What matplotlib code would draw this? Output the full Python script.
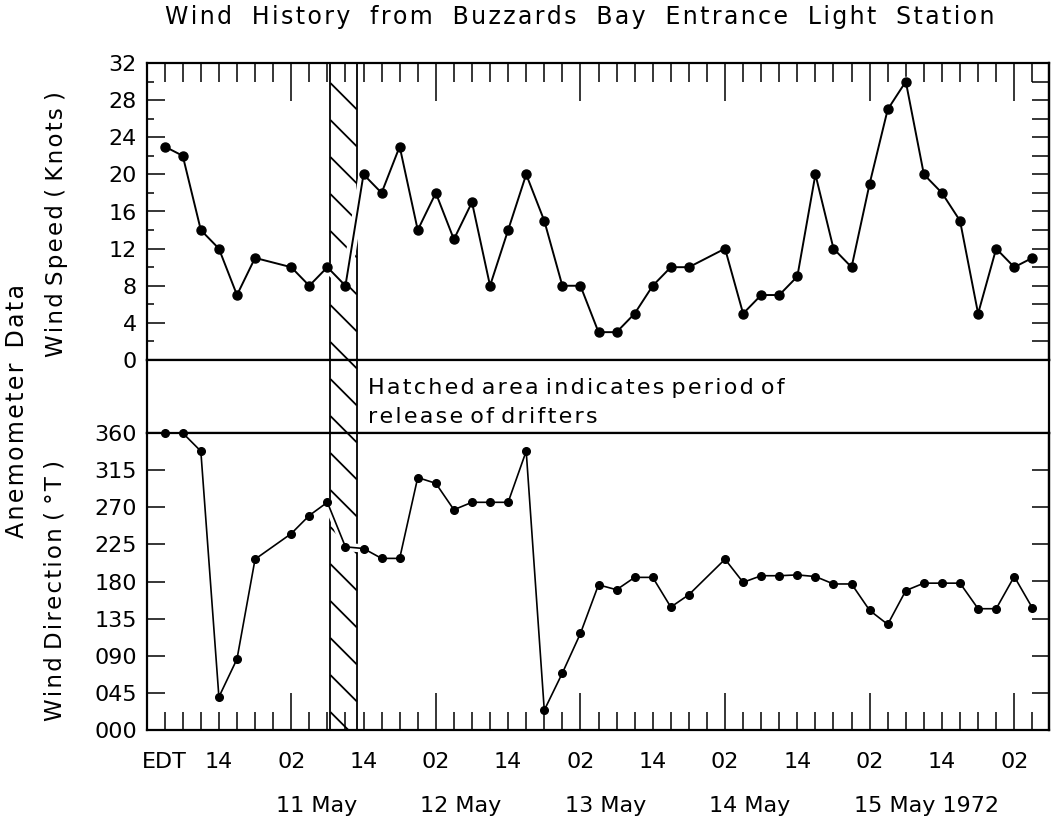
import numpy as np
import matplotlib.pyplot as plt
from matplotlib.collections import LineCollection
from matplotlib.transforms import IdentityTransform

plt.rcParams['font.family'] = 'DejaVu Sans'

# observation times, hours after 00 EDT on 10 May 1972
hours = [5, 8, 11, 14, 17, 20, 26, 29, 32, 35, 38, 41, 44, 47, 50, 53, 56, 59,
         62, 65, 68, 71, 74, 77, 80, 83, 86, 89, 92, 98, 101, 104, 107, 110,
         113, 116, 119, 122, 125, 128, 131, 134, 137, 140, 143, 146, 149]

# wind speed (knots)
speed = [23, 22, 14, 12, 7, 11, 10, 8, 10, 8, 20, 18, 23, 14, 18, 13, 17, 8,
         14, 20, 15, 8, 8, 3, 3, 5, 8, 10, 10, 12, 5, 7, 7, 9,
         20, 12, 10, 19, 27, 30, 20, 18, 15, 5, 12, 10, 11]

# wind direction (degrees true)
direction = [360, 360, 338, 40, 86, 207, 238, 260, 276, 222, 220, 208, 208,
             306, 299, 267, 276, 276, 276, 338, 24, 69, 117, 176, 170, 185,
             185, 149, 164, 207, 179, 187, 187, 188, 186, 177, 177, 145, 128,
             169, 178, 178, 178, 147, 147, 186, 148]

# period of drifter release (hours)
release = [32.5, 36.9]

speed_ticks = list(range(0, 33, 4))
dir_ticks = list(range(0, 361, 45))
dir_labels = ['%03d' % d for d in dir_ticks]

# 02 EDT each day gets a long tick
long_ticks = list(range(26, 150, 24))
short_ticks = [t for t in range(5, 150, 3) if t not in long_ticks]
short_labels = ['EDT' if t == 5 else ('14' if t % 24 == 14 else '') for t in short_ticks]

day_starts = [24, 48, 72, 96, 120]
day_labels = ['11 May', '12 May', '13 May', '14 May', '15 May 1972']


def spaced(s, word_gap='  '):
    # wide letter spacing like the original lettering
    words = [('\u200a').join(w) for w in s.split(' ')]
    return word_gap.join(words)


W, H = 1056, 821
fig = plt.figure(figsize=(W / 100, H / 100), dpi=100)


def rect(top, bottom):
    # pixel rows -> figure fraction rectangle
    return [146.6 / W, 1 - bottom / H, 902 / W, (bottom - top) / H]


ax_s = fig.add_axes(rect(63, 360))
ax_g = fig.add_axes(rect(360, 433))
ax_d = fig.add_axes(rect(433, 730))

for ax in (ax_s, ax_g, ax_d):
    ax.set_xlim(2, 151.7)
    for s in ax.spines.values():
        s.set_linewidth(1.6)

# --- wind speed panel
ax_s.set_ylim(0, 32)
ax_s.set_yticks(speed_ticks)
ax_s.set_yticks(list(range(2, 32, 4)), minor=True)
ax_s.tick_params(axis='y', which='major', direction='in', length=13, width=1.1,
                 labelsize=16, pad=7)
ax_s.tick_params(axis='y', which='minor', direction='in', length=5, width=1.1)
ax_s.set_xticks(long_ticks)
ax_s.set_xticks(short_ticks, minor=True)
ax_s.tick_params(axis='x', which='both', direction='in', top=True, bottom=False,
                 labeltop=False, labelbottom=False, width=1.1)
ax_s.tick_params(axis='x', which='major', length=27)
ax_s.tick_params(axis='x', which='minor', length=14)
sec = ax_s.secondary_yaxis('right')
sec.set_yticks(list(range(2, 32, 2)))
sec.tick_params(direction='in', length=12, width=1.1, labelright=False)
sec.spines['right'].set_linewidth(1.6)

# --- gap between panels
ax_g.set_ylim(0, 1)
ax_g.set_xticks([])
ax_g.set_yticks([])

# --- wind direction panel
ax_d.set_ylim(0, 360)
ax_d.set_yticks(dir_ticks, dir_labels)
ax_d.tick_params(axis='y', direction='in', length=13, width=1.1, labelsize=16, pad=7)
ax_d.set_xticks(long_ticks, ['02'] * len(long_ticks))
ax_d.set_xticks(short_ticks, short_labels, minor=True)
ax_d.tick_params(axis='x', which='both', direction='in', width=1.1, labelsize=16, pad=16)
ax_d.tick_params(axis='x', which='major', length=27)
ax_d.tick_params(axis='x', which='minor', length=13)
sec2 = ax_d.secondary_yaxis('right')
sec2.set_yticks(dir_ticks[1:-1])
sec2.tick_params(direction='in', length=12, width=1.1, labelright=False)
sec2.spines['right'].set_linewidth(1.6)

for x, lab in zip(day_starts, day_labels):
    ax_d.text(x - 0.6, -0.256, lab, transform=ax_d.get_xaxis_transform(),
              ha='left', va='center', fontsize=16)

# --- hatched release band, drawn through all three panels
x0 = ax_s.transData.transform((release[0], 0))[0]
x1 = ax_s.transData.transform((release[1], 0))[0]
top = H - 63
segs = [[(x0, y), (x1, y - (x1 - x0))] for y in np.arange(top - 20, 91, -37)]
for ax in (ax_s, ax_g, ax_d):
    for r in release:
        ax.axvline(r, color='black', lw=1.3, zorder=1)
    ax.add_collection(LineCollection(segs, transform=IdentityTransform(),
                                     colors='black', linewidths=1.3, zorder=1),
                      autolim=False)

ax_g.text(38.75, 0.616, spaced('Hatched area indicates period of', ' '),
          transform=ax_g.get_xaxis_transform(), ha='left', va='center', fontsize=16)
ax_g.text(38.75, 0.219, spaced('release of drifters', ' '),
          transform=ax_g.get_xaxis_transform(), ha='left', va='center', fontsize=16)

# --- data (white underlay breaks the hatching where the trace crosses it)
ax_s.plot(hours, speed, color='white', lw=7, zorder=2.1, clip_on=False)
ax_s.plot(hours, speed, color='black', lw=1.4, marker='o', ms=6.5, zorder=2.2,
          clip_on=False)
ax_d.plot(hours, direction, color='white', lw=6, zorder=2.1, clip_on=False)
ax_d.plot(hours, direction, color='black', lw=1.2, marker='o', ms=5.5, zorder=2.2,
          clip_on=False)

# --- titles and labels
fig.text(165 / W, 1 - 17 / H,
         spaced('Wind History from Buzzards Bay Entrance Light Station', '  \u2009'),
         ha='left', va='center', fontsize=17)
fig.text(17 / W, 1 - 411 / H, spaced('Anemometer Data', '  '), rotation=90,
         ha='center', va='center', fontsize=17)
fig.text(57 / W, 1 - 224 / H, spaced('Wind Speed ( Knots )', ' '), rotation=90,
         ha='center', va='center', fontsize=16.5)
fig.text(55 / W, 1 - 590 / H, spaced('Wind Direction ( °T )', ' '), rotation=90,
         ha='center', va='center', fontsize=16.5)

fig.savefig('out.png', dpi=100)
